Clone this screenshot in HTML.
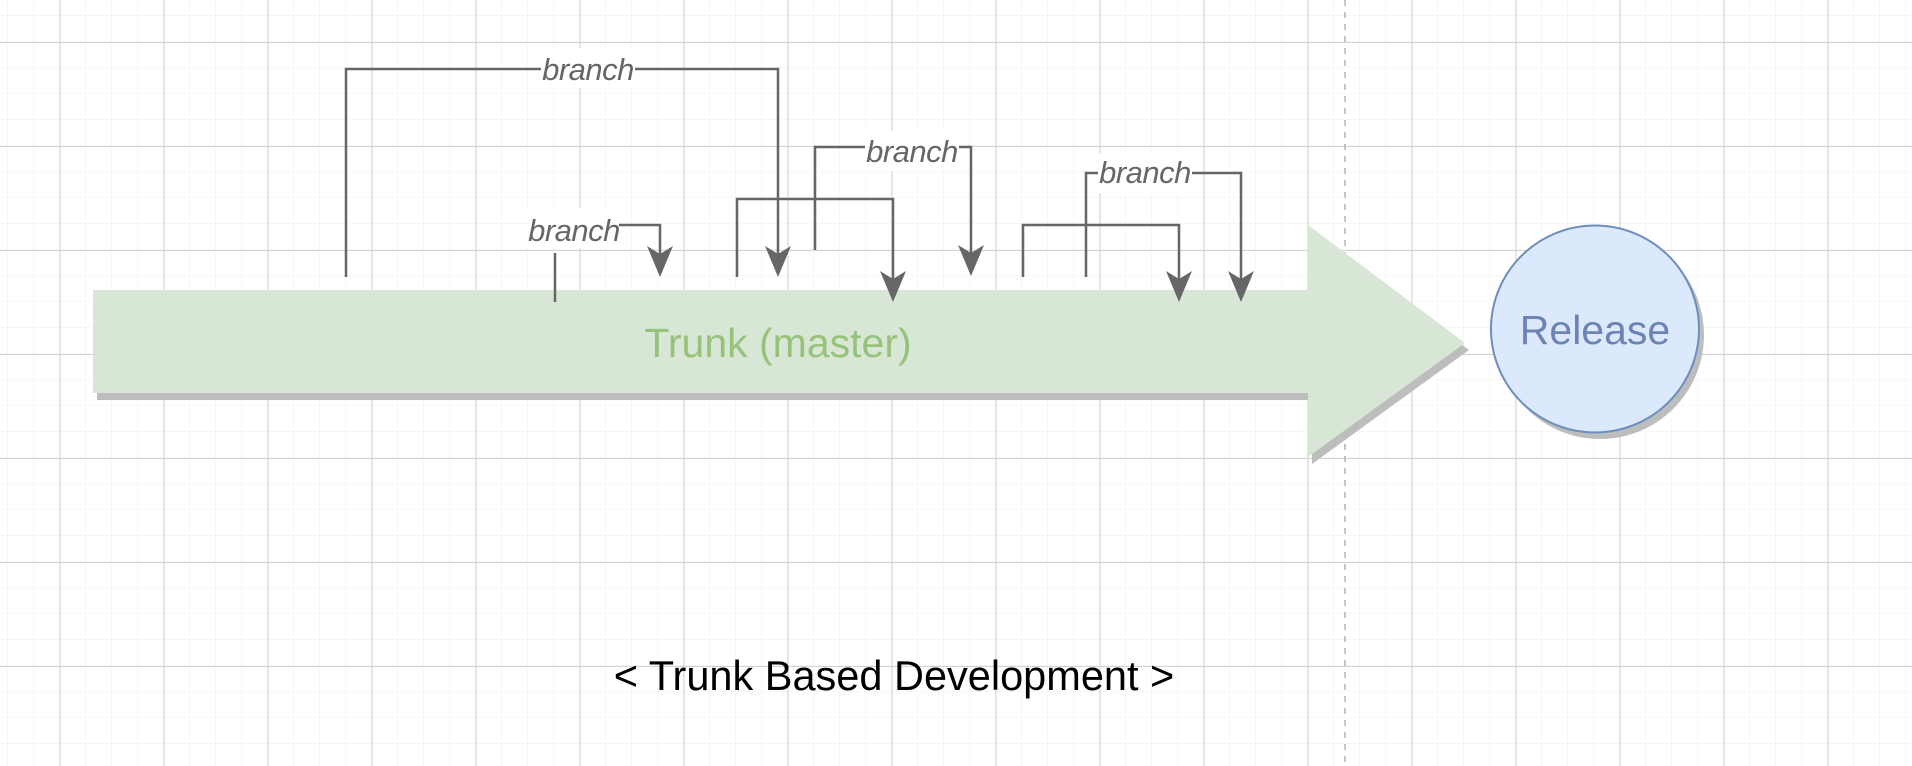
<!DOCTYPE html>
<html><head><meta charset="utf-8"><style>
html,body{margin:0;padding:0;background:#fff;}
svg{display:block;}
</style></head><body>
<svg width="1912" height="766" viewBox="0 0 1912 766" xmlns="http://www.w3.org/2000/svg">
<defs>
<pattern id="minor" x="7.5" y="16" width="26" height="26" patternUnits="userSpaceOnUse">
<path d="M26 0V26M0 26H26" fill="none" stroke="#efefef" stroke-width="1"/>
</pattern>
<pattern id="major" x="59.5" y="42" width="104" height="104" patternUnits="userSpaceOnUse">
<path d="M0.5 0V104M0 0.5H104" fill="none" stroke="#d4d4d4" stroke-width="1"/>
</pattern>
</defs>
<rect width="1912" height="766" fill="#fff"/>
<rect width="1912" height="766" fill="url(#minor)"/>
<rect width="1912" height="766" fill="url(#major)"/>
<line x1="1345" y1="0" x2="1345" y2="766" stroke="#b0b0b0" stroke-width="1.5" stroke-dasharray="6 6"/>

<polygon points="97,297 1312,297 1312,232 1469,350 1312,464 1312,400 97,400" fill="#bdbdbd"/>
<polygon points="93,290 1308,290 1308,225 1465,343 1308,457 1308,393 93,393" fill="#d8e7d5"/>
<text x="778" y="357" text-anchor="middle" font-family="Liberation Sans, sans-serif" font-size="41" fill="#97c27a">Trunk (master)</text>

<ellipse cx="1600" cy="335" rx="104" ry="104" fill="#bdbdbd"/>
<ellipse cx="1595" cy="329" rx="104" ry="103.5" fill="#dce8fb" stroke="#6c8ebf" stroke-width="2"/>
<text x="1595" y="344" text-anchor="middle" font-family="Liberation Sans, sans-serif" font-size="41" fill="#6c84b4">Release</text>

<g fill="none" stroke="#666" stroke-width="2.5">
<path d="M346 277V69H778V262"/>
<path d="M555 253V302"/>
<path d="M606 225H660V262"/>
<path d="M737 277V199H893V287"/>
<path d="M815 250V147H971V262"/>
<path d="M1023 277V225H1179V287"/>
<path d="M1086 277V173H1241V287"/>
</g>
<g fill="#666">
<path d="M778 277l-13-31l13 8l13-8z"/>
<path d="M660 277l-13-31l13 8l13-8z"/>
<path d="M893 302l-13-31l13 8l13-8z"/>
<path d="M971 276l-13-31l13 8l13-8z"/>
<path d="M1179 302l-13-31l13 8l13-8z"/>
<path d="M1241 302l-13-31l13 8l13-8z"/>
</g>
<g fill="#fff">
<rect x="541" y="48" width="94" height="40"/>
<rect x="527" y="208" width="92" height="40"/>
<rect x="865" y="131" width="94" height="40"/>
<rect x="1098" y="153" width="94" height="40"/>
</g>
<g font-family="Liberation Sans, sans-serif" font-style="italic" font-size="31" fill="#666" text-anchor="middle" letter-spacing="-0.5">
<text x="588" y="80">branch</text>
<text x="574" y="241">branch</text>
<text x="912" y="162">branch</text>
<text x="1145" y="183">branch</text>
</g>

<text x="894" y="690" text-anchor="middle" font-family="Liberation Sans, sans-serif" font-size="41.5" fill="#000">&lt; Trunk Based Development &gt;</text>
</svg>
</body></html>
